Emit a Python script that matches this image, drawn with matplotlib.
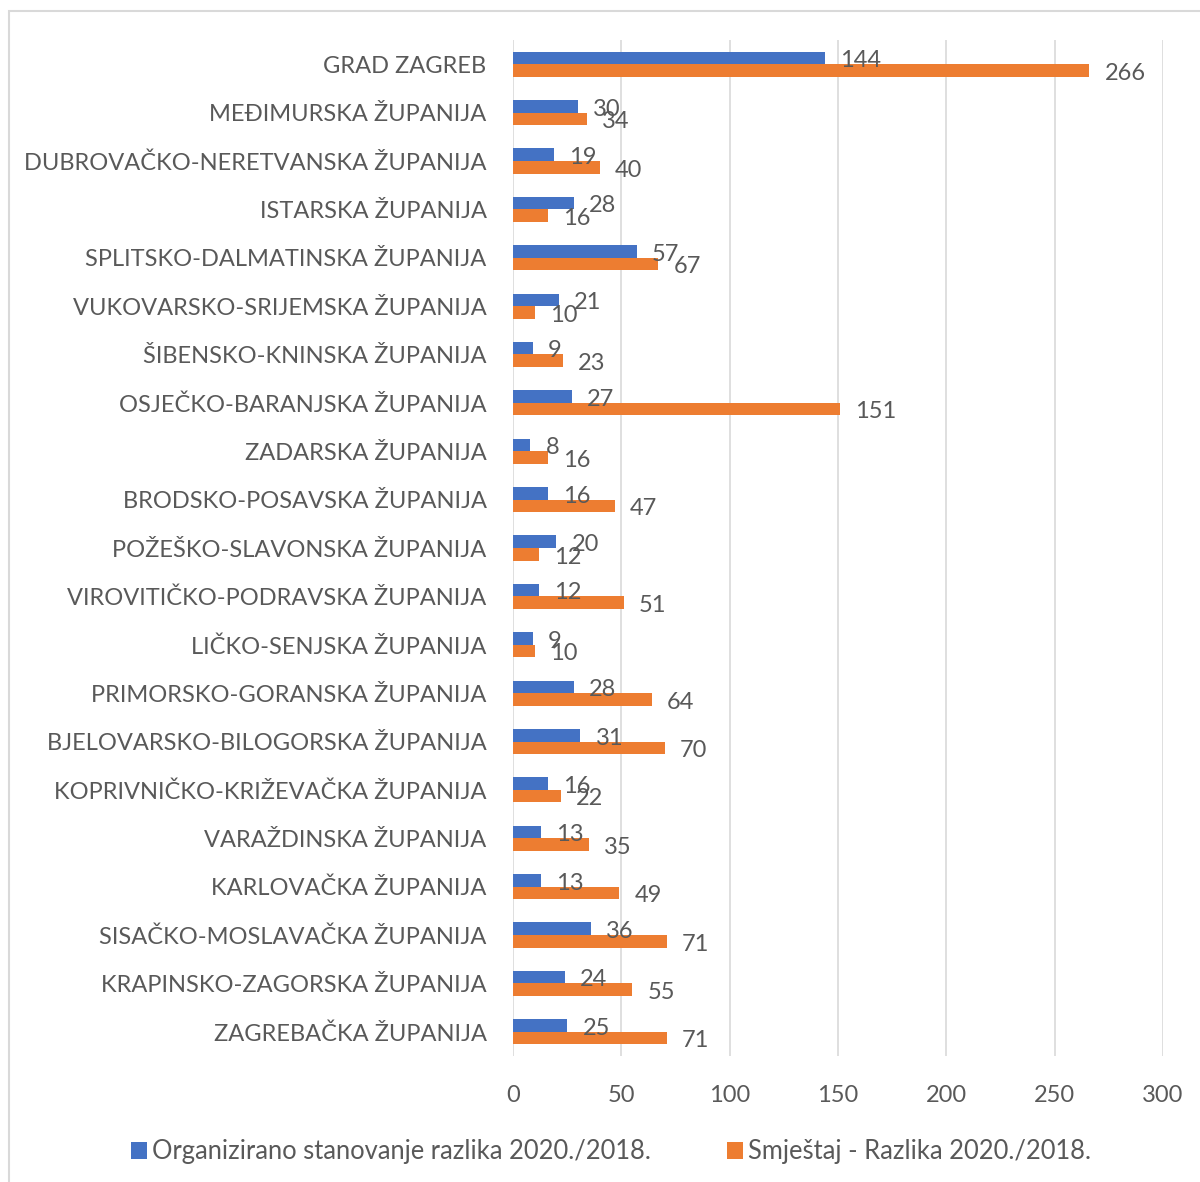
import matplotlib
matplotlib.use("Agg")
import matplotlib.pyplot as plt
from matplotlib.patches import Rectangle, Patch
import numpy as np

categories = [
    "GRAD ZAGREB", "MEĐIMURSKA ŽUPANIJA", "DUBROVAČKO-NERETVANSKA ŽUPANIJA",
    "ISTARSKA ŽUPANIJA", "SPLITSKO-DALMATINSKA ŽUPANIJA", "VUKOVARSKO-SRIJEMSKA ŽUPANIJA",
    "ŠIBENSKO-KNINSKA ŽUPANIJA", "OSJEČKO-BARANJSKA ŽUPANIJA", "ZADARSKA ŽUPANIJA",
    "BRODSKO-POSAVSKA ŽUPANIJA", "POŽEŠKO-SLAVONSKA ŽUPANIJA", "VIROVITIČKO-PODRAVSKA ŽUPANIJA",
    "LIČKO-SENJSKA ŽUPANIJA", "PRIMORSKO-GORANSKA ŽUPANIJA", "BJELOVARSKO-BILOGORSKA ŽUPANIJA",
    "KOPRIVNIČKO-KRIŽEVAČKA ŽUPANIJA", "VARAŽDINSKA ŽUPANIJA", "KARLOVAČKA ŽUPANIJA",
    "SISAČKO-MOSLAVAČKA ŽUPANIJA", "KRAPINSKO-ZAGORSKA ŽUPANIJA", "ZAGREBAČKA ŽUPANIJA",
]
organizirano = [144, 30, 19, 28, 57, 21, 9, 27, 8, 16, 20, 12, 9, 28, 31, 16, 13, 13, 36, 24, 25]
smjestaj = [266, 34, 40, 16, 67, 10, 23, 151, 16, 47, 12, 51, 10, 64, 70, 22, 35, 49, 71, 55, 71]
series_names = ["Organizirano stanovanje razlika 2020./2018.", "Smještaj - Razlika 2020./2018."]
xticks = [0, 50, 100, 150, 200, 250, 300]

BLUE = "#4472C4"
ORANGE = "#ED7D31"
TXT = "#595959"
GRID = "#D9D9D9"
FS = 17

plt.rcParams['font.family'] = ['Lato', 'DejaVu Sans']

fig = plt.figure(figsize=(12, 11.82), dpi=100)
ax = fig.add_axes([513/1200, 1-1056/1182, 650/1200, 1016/1182])

n = len(categories)
y = np.arange(n)
h = 0.26
ax.barh(y - h/2, organizirano, height=h, color=BLUE, zorder=3)
ax.barh(y + h/2, smjestaj, height=h, color=ORANGE, zorder=3)

for yi, v in zip(y, organizirano):
    ax.annotate(str(v), (v, yi - h/2), xytext=(11, -2), textcoords='offset points',
                ha='left', va='center', fontsize=FS, color=TXT, zorder=4)
for yi, v in zip(y, smjestaj):
    ax.annotate(str(v), (v, yi + h/2), xytext=(11, -2), textcoords='offset points',
                ha='left', va='center', fontsize=FS, color=TXT, zorder=4)

ax.set_ylim(n - 0.5, -0.5)
ax.set_xlim(0, 300)
ax.set_yticks(y)
ax.set_yticklabels(categories, fontsize=FS, color=TXT)
ax.set_xticks(xticks)
ax.set_xticklabels([str(t) for t in xticks], fontsize=FS, color=TXT)
ax.tick_params(axis='both', length=0)
ax.tick_params(axis='y', pad=19)
ax.tick_params(axis='x', pad=21)
for s in ax.spines.values():
    s.set_visible(False)
ax.grid(axis='x', color=GRID, linewidth=1.2, zorder=0)

handles = [Patch(facecolor=BLUE, label=series_names[0]),
           Patch(facecolor=ORANGE, label=series_names[1])]
leg = fig.legend(handles=handles, loc='center', bbox_to_anchor=(611/1200, 1-1152/1182),
                 ncol=2, frameon=False, fontsize=18.4, handlelength=0.6, handleheight=0.6,
                 handletextpad=0.2, columnspacing=3.0, labelcolor=TXT)

fig.patches.append(Rectangle((9/1200, -0.1), 1.2, 1-11/1182+0.1, transform=fig.transFigure,
                             fill=False, edgecolor=GRID, linewidth=1.5))

fig.savefig("out.png", dpi=100)
